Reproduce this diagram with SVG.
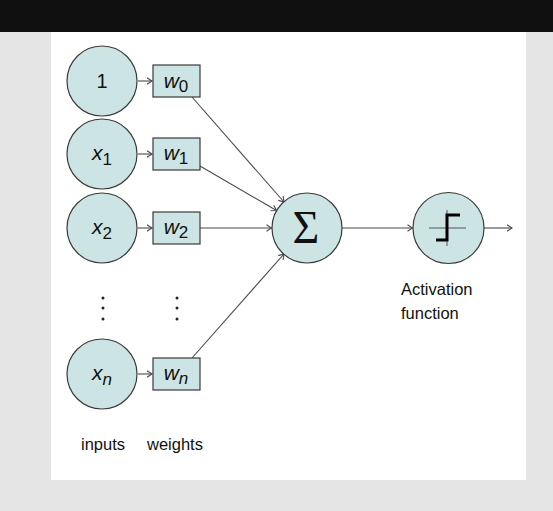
<svg xmlns="http://www.w3.org/2000/svg" width="553" height="511" viewBox="0 0 553 511">
<style>
.nd{fill:#cce5e4;stroke:#3a3a3a;stroke-width:1.2}
.t{font-family:"Liberation Sans",Arial,sans-serif;fill:#111}
.v{font-size:21px}
.s{font-size:17px}
.c{stroke:#4a4a4a;stroke-width:1.1;fill:none}
.dot{fill:#222}
</style>
<defs>
<marker id="ah" viewBox="0 0 6 8" refX="5.5" refY="4" markerWidth="6" markerHeight="8" markerUnits="userSpaceOnUse" orient="auto">
<path d="M0.5,0.8 L5.5,4 L0.5,7.2" fill="none" stroke="#4a4a4a" stroke-width="1.1"/>
</marker>
</defs>
<rect x="0" y="0" width="553" height="511" fill="#e5e5e5"/>
<rect x="0" y="0" width="553" height="32" fill="#0f0f0f"/>
<rect x="51" y="32" width="475" height="448" fill="#ffffff"/>

<g id="connectors">
<line class="c" x1="138" y1="81" x2="152" y2="81" marker-end="url(#ah)"/>
<line class="c" x1="138" y1="154" x2="152" y2="154" marker-end="url(#ah)"/>
<line class="c" x1="138" y1="228" x2="152" y2="228" marker-end="url(#ah)"/>
<line class="c" x1="138" y1="374" x2="152" y2="374" marker-end="url(#ah)"/>
<line class="c" x1="192" y1="97" x2="284" y2="202" marker-end="url(#ah)"/>
<line class="c" x1="200" y1="166" x2="276.5" y2="210.5" marker-end="url(#ah)"/>
<line class="c" x1="200" y1="228" x2="271.5" y2="228" marker-end="url(#ah)"/>
<line class="c" x1="192" y1="358" x2="284" y2="254" marker-end="url(#ah)"/>
<line class="c" x1="342" y1="228" x2="412.5" y2="228" marker-end="url(#ah)"/>
<line class="c" x1="484" y1="228" x2="512" y2="228" marker-end="url(#ah)"/>
</g>

<g id="in1">
<circle class="nd" cx="102" cy="81" r="35"/>
<text class="t" font-size="20" x="102" y="88" text-anchor="middle">1</text>
</g>
<g id="inx1">
<circle class="nd" cx="102" cy="154" r="35"/>
<text class="t v" x="102" y="160" text-anchor="middle"><tspan font-style="italic">x</tspan><tspan class="s" dy="5">1</tspan></text>
</g>
<g id="inx2">
<circle class="nd" cx="102" cy="228" r="35"/>
<text class="t v" x="102" y="234" text-anchor="middle"><tspan font-style="italic">x</tspan><tspan class="s" dy="5">2</tspan></text>
</g>
<g id="inxn">
<circle class="nd" cx="102" cy="374" r="35"/>
<text class="t v" x="102" y="380" text-anchor="middle"><tspan font-style="italic">x</tspan><tspan class="s" font-style="italic" dy="5">n</tspan></text>
</g>

<g id="w0">
<rect class="nd" x="153" y="65" width="47" height="32"/>
<text class="t v" x="176" y="88" text-anchor="middle"><tspan font-style="italic">w</tspan><tspan class="s" dy="4">0</tspan></text>
</g>
<g id="w1">
<rect class="nd" x="153" y="138" width="47" height="32"/>
<text class="t v" x="176" y="160" text-anchor="middle"><tspan font-style="italic">w</tspan><tspan class="s" dy="4">1</tspan></text>
</g>
<g id="w2">
<rect class="nd" x="153" y="212" width="47" height="32"/>
<text class="t v" x="176" y="234" text-anchor="middle"><tspan font-style="italic">w</tspan><tspan class="s" dy="4">2</tspan></text>
</g>
<g id="wn">
<rect class="nd" x="153" y="358" width="47" height="32"/>
<text class="t v" x="176" y="380" text-anchor="middle"><tspan font-style="italic">w</tspan><tspan class="s" font-style="italic" dy="4">n</tspan></text>
</g>

<g id="dots">
<circle class="dot" cx="103" cy="298" r="1.5"/>
<circle class="dot" cx="103" cy="308" r="1.5"/>
<circle class="dot" cx="103" cy="319" r="1.5"/>
<circle class="dot" cx="177" cy="298" r="1.5"/>
<circle class="dot" cx="177" cy="308" r="1.5"/>
<circle class="dot" cx="177" cy="319" r="1.5"/>
</g>

<g id="sum">
<circle class="nd" cx="307" cy="228" r="35"/>
<text x="306" y="243" text-anchor="middle" font-family="'Liberation Serif','DejaVu Serif',serif" font-size="46" fill="#111">Σ</text>
</g>

<g id="activation">
<circle class="nd" cx="448.5" cy="228" r="35.5"/>
<line x1="429" y1="228" x2="466" y2="228" stroke="#555" stroke-width="1"/>
<line x1="447" y1="210" x2="447" y2="246" stroke="#555" stroke-width="1"/>
<path d="M436,240 L447,240 L447,215 L460,215" fill="none" stroke="#000" stroke-width="3"/>
</g>

<g id="labels">
<text class="t" x="401" y="295" font-size="16.5">Activation</text>
<text class="t" x="401" y="319" font-size="16.5">function</text>
<text class="t" x="81" y="450" font-size="16.5">inputs</text>
<text class="t" x="147" y="450" font-size="16.5">weights</text>
</g>
</svg>
